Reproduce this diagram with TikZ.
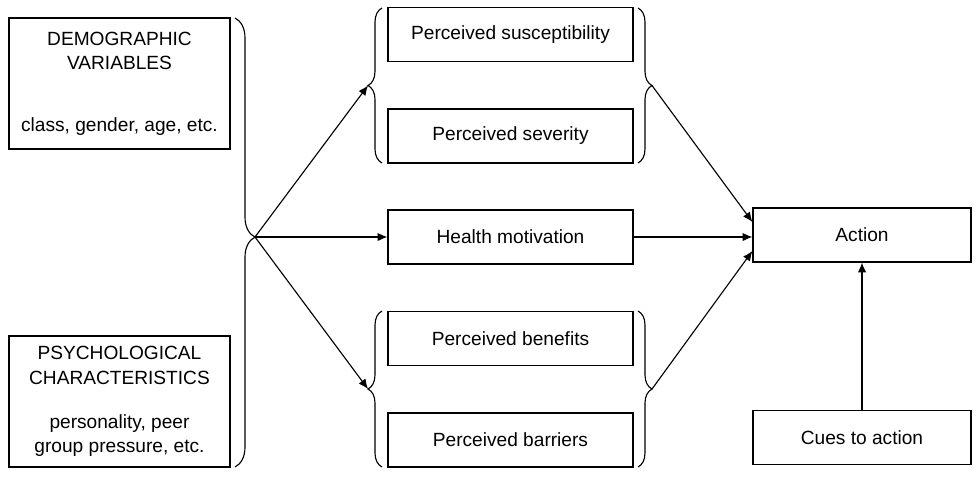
\documentclass[tikz,border=0pt]{standalone}
\usepackage{fontspec}
\setmainfont{Liberation Sans}
\usepackage{tikz}
\usetikzlibrary{calc, positioning, arrows.meta, decorations.pathreplacing}

\tikzset{
    box/.style={draw, line width=0.8pt, align=center, inner sep=0pt,
        font=\fontsize{13.6}{17.5}\selectfont},
    bigbox/.style={box, minimum width=5.525cm, minimum height=3.275cm},
    midbox/.style={box, minimum width=6.125cm, minimum height=1.35cm},
    endbox/.style={box, minimum width=5.45cm, minimum height=1.35cm},
    curly/.style={decorate, line width=0.8pt,
        decoration={brace, amplitude=#1}},
}

\begin{document}
\begin{tikzpicture}[>={Latex[length=7pt,width=6pt]}, x=0.025cm, y=-0.025cm, line width=0.8pt]
    \useasboundingbox (0,0) rectangle (980,476);

    % 1. Các khối bên trái
    \node[bigbox] (demo) at (119.5,83.5)
        {DEMOGRAPHIC\\VARIABLES\\[26pt]class, gender, age, etc.};
    \node[bigbox] (psych) at (119.5,401.5)
        {PSYCHOLOGICAL\\CHARACTERISTICS\\[14pt]personality, peer\\group pressure, etc.};

    % 2. Các khối ở giữa
    \node[midbox] (susc) at (510.5,34.5) {Perceived susceptibility};
    \node[midbox] (sev) at (510.5,136) {Perceived severity};
    \node[midbox] (health) at (510.5,237) {Health motivation};
    \node[midbox] (benef) at (510.5,338.5) {Perceived benefits};
    \node[midbox] (barr) at (510.5,440) {Perceived barriers};

    % 3. Các khối bên phải
    \node[endbox] (action) at (862,235) {Action};
    \node[endbox] (cues) at (862,437.5) {Cues to action};

    % 4. Dấu ngoặc nhọn
    \draw[curly=0.5cm, decoration={aspect=0.488}] (235,18) -- (235,467);
    \coordinate (bigtip) at (255,237);
    \draw[curly=0.35cm] (382,163) -- (382,8);
    \coordinate (topL) at (368,85.5);
    \draw[curly=0.35cm] (638,8) -- (638,163);
    \coordinate (topR) at (652,85.5);
    \draw[curly=0.35cm] (382,467) -- (382,311);
    \coordinate (botL) at (368,389);
    \draw[curly=0.35cm] (638,311) -- (638,467);
    \coordinate (botR) at (652,389);

    % 5. Mũi tên
    \draw[->] (bigtip) -- (topL);
    \draw[->] (bigtip) -- (health.west);
    \draw[->] (bigtip) -- (botL);
    \draw[->] (topR) -- ($(action.west)+(0,-13)$);
    \draw[->] (health.east) -- (health.east -| action.west);
    \draw[->] (botR) -- ($(action.west)+(0,16)$);
    \draw[->] (cues) -- (action);
\end{tikzpicture}
\end{document}
